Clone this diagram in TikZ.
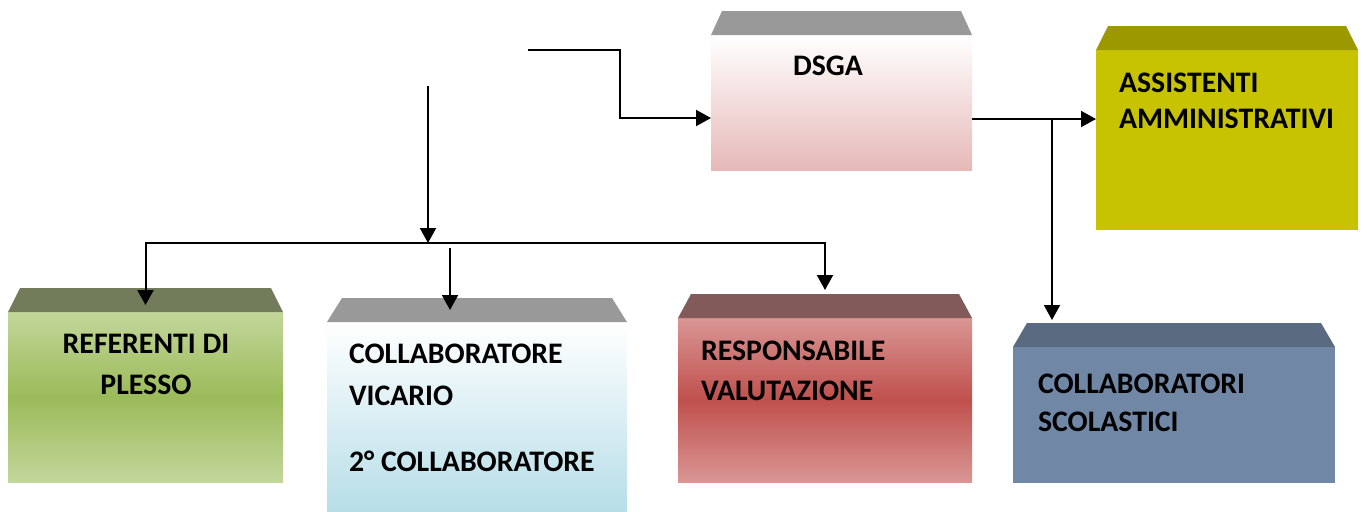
\documentclass[tikz,border=0pt]{standalone}
\usepackage{fontspec}
\setmainfont{Carlito}
\usepackage{xcolor}
\usetikzlibrary{arrows.meta}

\definecolor{roofgray}{HTML}{999999}
\definecolor{dsgabot}{HTML}{E6B9B8}
\definecolor{assfill}{HTML}{C8C300}
\definecolor{assroof}{HTML}{9C9900}
\definecolor{refpale}{HTML}{C3D69B}
\definecolor{refmid}{HTML}{9BBB59}
\definecolor{refroof}{HTML}{727C5A}
\definecolor{collbot}{HTML}{B7DEE8}
\definecolor{resppale}{HTML}{D99694}
\definecolor{respmid}{HTML}{C0504D}
\definecolor{resproof}{HTML}{825A59}
\definecolor{scolfill}{HTML}{7187A6}
\definecolor{scolroof}{HTML}{5A6A80}

% sloped top face over a box node
\newcommand{\roof}[3]{\fill[#2] (#1.north west) -- ++(#3,-24) -- ([shift={(-#3,-24)}]#1.north east) -- (#1.north east) -- cycle;}

\begin{document}
\begin{tikzpicture}[x=0.5pt, y=-0.5pt, line width=1pt, >={Triangle[length=7.5pt,width=8pt]},
  box/.style={inner sep=0pt, outer sep=0pt},
  lbl/.style={inner sep=0pt, anchor=north west, align=left, font=\fontsize{14.9}{#1}\selectfont\bfseries}]
  \useasboundingbox (0,0) rectangle (1367,511);

  % boxes
  \node[box, minimum width=130.5pt, minimum height=67.5pt, top color=white, bottom color=dsgabot] (dsga) at (841.5,102.5) {};
  \node[box, minimum width=131pt, minimum height=90pt, fill=assfill] (ass) at (1227,140) {};
  \node[box, minimum width=137.5pt, minimum height=85pt, top color=refpale, bottom color=refpale, middle color=refmid] (ref) at (145.5,397) {};
  \node[box, minimum width=150pt, minimum height=94.5pt, top color=white, bottom color=collbot] (coll) at (477,416.5) {};
  \node[box, minimum width=147pt, minimum height=82pt, top color=resppale, bottom color=resppale, middle color=respmid] (resp) at (825,400) {};
  \node[box, minimum width=161pt, minimum height=68pt, fill=scolfill] (scol) at (1174,415) {};

  \roof{dsga}{roofgray}{11}
  \roof{ass}{assroof}{12}
  \roof{ref}{refroof}{12}
  \roof{coll}{roofgray}{15}
  \roof{resp}{resproof}{13}
  \roof{scol}{scolroof}{14}

  % labels
  \node[lbl=18pt] (dsgatxt) at (792,55) {DSGA};
  \node[lbl=18pt] (asstxt) at (1118,72) {ASSISTENTI\\AMMINISTRATIVI};
  \node[lbl=20.5pt, anchor=north, align=center] (reftxt) at (146,333) {REFERENTI DI\\PLESSO};
  \node[lbl=21pt] (colltxt) at (348,343) {COLLABORATORE\\VICARIO\\[12pt]2° COLLABORATORE};
  \node[lbl=20pt] (resptxt) at (700,340) {RESPONSABILE\\VALUTAZIONE};
  \node[lbl=19pt] (scoltxt) at (1037,373) {COLLABORATORI\\SCOLASTICI};

  % connectors
  \coordinate (src) at (528,50);
  \coordinate (j1) at (620,118);
  \coordinate (down) at (428,86);
  \coordinate (bus) at (428,243);
  \coordinate (cv) at (450,248);
  \coordinate (j2) at (1052,119);

  \draw[->] (src) -| (j1) -- (j1 -| dsga.west);
  \draw[->] (down) -- (bus);
  \draw[->, shorten >=3.5pt] (bus) -| (ref.north);
  \draw[->, shorten >=14pt] (bus) -| (resp.north);
  \draw[->, shorten >=6pt] (cv) -- (cv |- coll.north);
  \draw[->] (j2 -| dsga.east) -- (j2 -| ass.west);
  \draw[->, shorten >=13.5pt] (j2) -- (j2 |- scol.north);
\end{tikzpicture}
\end{document}
